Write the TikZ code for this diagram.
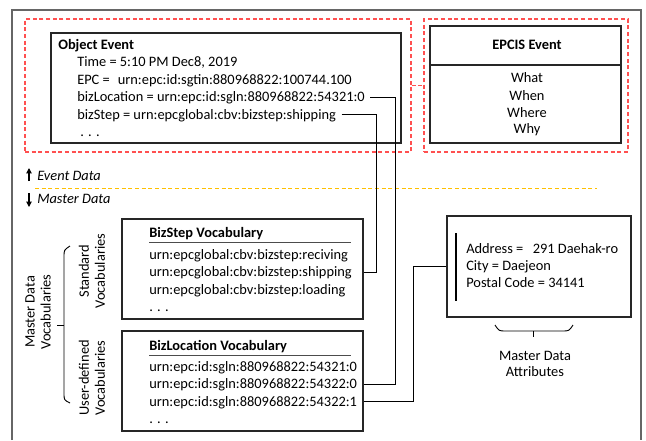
\documentclass[tikz,border=0pt]{standalone}
\usepackage{fontspec}
\setmainfont{Carlito}[Scale=1.08]
\usetikzlibrary{positioning,arrows.meta}

\definecolor{evred}{HTML}{FF5050}
\definecolor{sepyellow}{HTML}{FFC000}

\begin{document}
\begin{tikzpicture}[x=0.75pt,y=-0.75pt,
  box/.style={draw=black!85,line width=0.8pt,inner sep=0pt},
  redbox/.style={draw=evred,dash pattern=on 3pt off 2pt,line width=0.8pt,inner sep=0pt},
  reddash/.style={evred,dash pattern=on 3pt off 2pt,line width=0.8pt},
  txt/.style={anchor=west,inner sep=0pt,text height=1.5ex,text depth=0.25ex},
  conn/.style={black,line width=0.7pt},
  updown/.style={-{Triangle[length=4pt,width=4pt]},line width=0.8pt},
  bracket/.style={black,line width=0.7pt}]

\useasboundingbox (0,0) rectangle (646,440);
\draw[black!60,line width=0.8pt] (12,440) -- (12,10) -- (641,10) -- (641,440);

% event data
\node[redbox,minimum width=289.5pt,minimum height=99.75pt] (evred) at (218,85.5) {};
\node[redbox,minimum width=153pt,minimum height=99.75pt] (epcisred) at (526,85.5) {};
\draw[reddash] (evred.east) -- (epcisred.west);

\node[box,minimum width=262.5pt,minimum height=82.5pt] (objev) at (226,88) {};
\node[txt,font=\bfseries] (objtitle) at (58,45) {Object Event};
\foreach \t [count=\i] in {{Time = 5:10 PM Dec8, 2019},
    {EPC =\hspace{6pt}urn:epc:id:sgtin:880968822:100744.100},
    {bizLocation = urn:epc:id:sgln:880968822:54321:0},
    {bizStep = urn:epcglobal:cbv:bizstep:shipping}}
  \node[txt] (ev\i) at (77,{44.5+17.6*\i}) {\t};
\node[txt] (evdots) at (80,132.5) {. . .};

\node[box,minimum width=143.25pt,minimum height=87.75pt] (epcis) at (525.5,84.5) {};
\coordinate (divy) at (0,65);
\draw[box] (epcis.west |- divy) -- (epcis.east |- divy);
\node[font=\bfseries] (epcistitle) at (527,45) {EPCIS Event};
\foreach \t [count=\i] in {What,When,Where,Why}
  \node (w\i) at (527,{60.5+17.4*\i}) {\t};

% separator
\draw[sepyellow,dash pattern=on 3pt off 2pt,line width=0.7pt] (35,188) -- (597,188);
\node[txt,font=\itshape] (evdata) at (37,176) {Event Data};
\node[txt,font=\itshape] (mdata) at (37,199) {Master Data};
\draw[updown] ([xshift=-6pt,yshift=-3.75pt]evdata.west) -- ([xshift=-6pt,yshift=6pt]evdata.west);
\draw[updown] ([xshift=-6pt,yshift=4.5pt]mdata.west) -- ([xshift=-6pt,yshift=-6pt]mdata.west);

% master data
\node[box,minimum width=180.75pt,minimum height=75pt] (stepvoc) at (242.5,269) {};
\node[txt,font=\bfseries] (steptitle) at (149,233) {BizStep Vocabulary};
\draw[black!70,line width=0.8pt] ([yshift=-2.5pt]steptitle.south west) -- ++(202,0);
\foreach \t [count=\i] in {urn:epcglobal:cbv:bizstep:reciving,
    urn:epcglobal:cbv:bizstep:shipping,
    urn:epcglobal:cbv:bizstep:loading, . . .}
  \node[txt] (step\i) at (149,{237.5+17.4*\i}) {\t};

\node[box,minimum width=180.75pt,minimum height=75pt] (locvoc) at (242.5,381) {};
\node[txt,font=\bfseries] (loctitle) at (149,346) {BizLocation Vocabulary};
\draw[black!70,line width=0.8pt] ([yshift=-2.5pt]loctitle.south west) -- ++(202,0);
\foreach \t [count=\i] in {urn:epc:id:sgln:880968822:54321:0,
    urn:epc:id:sgln:880968822:54322:0,
    urn:epc:id:sgln:880968822:54322:1, . . .}
  \node[txt] (loc\i) at (149,{349.5+17.4*\i}) {\t};

\node[box,minimum width=138pt,minimum height=75.75pt] (addr) at (539,266.5) {};
\draw[line width=0.8pt] (456,233) -- (456,301);
\foreach \t [count=\i] in {Address =\hspace{7pt}291 Daehak-ro, City = Daejeon, Postal Code = 34141}
  \node[txt] (attr\i) at (466,{232+17*\i}) {\t};
% brace under the attributes
\draw[bracket] (495,325) .. controls (499,331) .. (506,331) -- (562,331) .. controls (569,331) .. (573,325);
\draw[bracket] (533,331) -- (533,337);
\node[align=center] (attrlabel) at (535,364) {Master Data\\Attributes};

% brace of the vocabularies
\draw[bracket] (70,246) .. controls (64,250) .. (64,257) -- (64,393) .. controls (64,400) .. (70,403);
\draw[bracket] (64,325) -- (57,325);
\node[rotate=90,align=center] (mdv) at (38,312) {Master Data\\Vocabularies};
\node[rotate=90,align=center] (stdv) at (92,271) {Standard\\Vocabularies};
\node[rotate=90,align=center] (udv) at (92,378) {User-defined\\Vocabularies};

% links
\coordinate (stepx) at (376,0);
\coordinate (locx) at (395,0);
\coordinate (addrx) at (413,0);
\draw[conn] ([xshift=4pt]ev3.east) -| (locx |- loc2.west) -- (locvoc.east |- loc2.west);
\draw[conn] ([xshift=4pt]ev4.east) -| (stepx |- step2.west) -- (stepvoc.east |- step2.west);
\draw[conn] (locvoc.east |- loc3.west) -| (addrx |- addr.west) -- (addr.west);
\end{tikzpicture}
\end{document}
